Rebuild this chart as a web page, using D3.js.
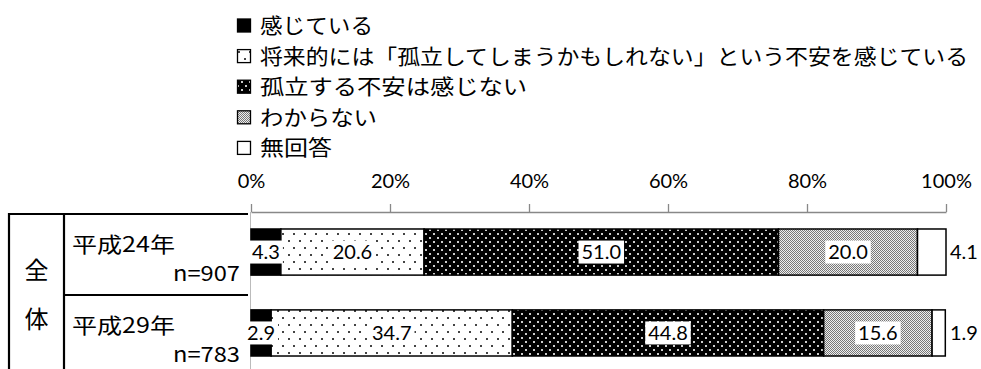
<!DOCTYPE html>
<html><head><meta charset="utf-8">
<script src="https://cdn.jsdelivr.net/npm/d3@7"></script>
<style>body{margin:0;background:#fff;overflow:hidden}</style>
</head><body>
<svg id="c" width="981" height="369"></svg>
<script>
// ---- data ----
const categories = ["平成24年", "平成29年"];
const sampleSizes = ["n=907", "n=783"];
const groupLabel = ["全", "体"];
const seriesNames = [
  "感じている",
  "将来的には「孤立してしまうかもしれない」という不安を感じている",
  "孤立する不安は感じない",
  "わからない",
  "無回答"
];
const feelAnxious = [4.3, 2.9];
const futureAnxious = [20.6, 34.7];
const noAnxiety = [51.0, 44.8];
const dontKnow = [20.0, 15.6];
const noAnswer = [4.1, 1.9];
const tickValues = [0, 20, 40, 60, 80, 100];

const seriesValues = [feelAnxious, futureAnxious, noAnxiety, dontKnow, noAnswer];

const svg = d3.select("#c");
const JP = "'Noto Sans CJK JP', 'Noto Sans', sans-serif";
const NUM = "Lato, 'Noto Sans', sans-serif";

// ---- patterns ----
const defs = svg.append("defs");
const fills = ["#000", "url(#p2)", "url(#p3)", "url(#p4)", "#fff"];
{
  const p2 = defs.append("pattern").attr("id", "p2").attr("patternUnits", "userSpaceOnUse")
    .attr("width", 11).attr("height", 14);
  p2.append("rect").attr("width", 11).attr("height", 14).attr("fill", "#fff");
  p2.append("rect").attr("x", 2).attr("y", 2).attr("width", 2).attr("height", 2).attr("fill", "#444");
  p2.append("rect").attr("x", 7).attr("y", 9).attr("width", 2).attr("height", 2).attr("fill", "#444");

  const p3 = defs.append("pattern").attr("id", "p3").attr("patternUnits", "userSpaceOnUse")
    .attr("width", 8).attr("height", 8);
  p3.append("rect").attr("width", 8).attr("height", 8).attr("fill", "#000");
  p3.append("rect").attr("x", 1).attr("y", 1).attr("width", 2).attr("height", 2).attr("fill", "#ccc");
  p3.append("rect").attr("x", 5).attr("y", 5).attr("width", 2).attr("height", 2).attr("fill", "#ccc");

  const p4 = defs.append("pattern").attr("id", "p4").attr("patternUnits", "userSpaceOnUse")
    .attr("width", 2).attr("height", 2);
  p4.append("rect").attr("width", 2).attr("height", 2).attr("fill", "#eee");
  p4.append("rect").attr("x", 0).attr("y", 0).attr("width", 1).attr("height", 1).attr("fill", "#777");
  p4.append("rect").attr("x", 1).attr("y", 1).attr("width", 1).attr("height", 1).attr("fill", "#777");
}

// ---- scales ----
const x = d3.scaleLinear().domain([0, 100]).range([251, 946]);
const y = d3.scaleBand().domain(categories).range([212, 373]).paddingInner(0.43).paddingOuter(0.21);

// ---- legend ----
const legY0 = 25.5, legStep = 30.6;
const legWidths = [113, 708, 267, 117, 72];
const leg = svg.append("g");
seriesNames.forEach((name, i) => {
  const cy = legY0 + i * legStep;
  leg.append("rect").attr("x", 237.5).attr("y", cy - 6.5).attr("width", 13).attr("height", 13)
    .attr("fill", fills[i]).attr("stroke", "#000").attr("stroke-width", 1.3);
  leg.append("text").attr("x", 260).attr("y", cy).attr("dy", "0.36em")
    .attr("font-family", JP).attr("font-size", 21).attr("fill", "#000")
    .attr("textLength", legWidths[i]).attr("lengthAdjust", "spacingAndGlyphs").text(name);
});

// ---- axis ----
const axis = svg.append("g").attr("transform", "translate(0,212)")
  .call(d3.axisTop(x).tickValues(tickValues).tickFormat(d => d + "%").tickSize(8).tickSizeOuter(0));
axis.select(".domain").attr("stroke", "#888").attr("stroke-width", 1.3);
axis.selectAll(".tick line").attr("stroke", "#888").attr("stroke-width", 1.3);
axis.selectAll(".tick text").attr("font-family", NUM).attr("font-size", 20).attr("fill", "#000")
  .attr("dy", 0).attr("y", -24);
// vertical category axis line
svg.append("line").attr("x1", 250.5).attr("x2", 250.5).attr("y1", 212).attr("y2", 369)
  .attr("stroke", "#bbb").attr("stroke-width", 1);

// ---- bars ----
const stacked = categories.map((c, ci) => {
  let acc = 0;
  return seriesValues.map((arr, si) => {
    const v = arr[ci]; const s = acc; acc += v;
    return { cat: c, si, v, x0: s, x1: acc };
  });
});
const barG = svg.append("g");
stacked.flat().forEach(d => {
  barG.append("rect").attr("x", x(d.x0)).attr("y", y(d.cat))
    .attr("width", x(d.x1) - x(d.x0)).attr("height", y.bandwidth())
    .attr("fill", fills[d.si]).attr("stroke", "#000").attr("stroke-width", 1.5);
});

// ---- labels ----
const labG = svg.append("g");
stacked.flat().forEach(d => {
  const cy = y(d.cat) + y.bandwidth() / 2;
  if (d.si === 4) {
    labG.append("text").attr("x", x(100) + 4).attr("y", cy).attr("dy", "0.36em")
      .attr("font-family", NUM).attr("font-size", 20).attr("fill", "#000").text(d.v.toFixed(1));
  } else {
    const g = labG.append("g");
    const t = g.append("text").attr("x", (x(d.x0) + x(d.x1)) / 2).attr("y", cy).attr("dy", "0.36em")
      .attr("text-anchor", "middle").attr("font-family", NUM).attr("font-size", 20).attr("fill", "#000")
      .text(d.v.toFixed(1));
    const bb = t.node().getBBox();
    g.insert("rect", "text").attr("x", bb.x - 3).attr("y", cy - 11.5).attr("width", bb.width + 6)
      .attr("height", 23).attr("fill", "#fff");
  }
});

// ---- left table ----
const tbl = svg.append("g").attr("stroke", "#000").attr("stroke-width", 2.2);
tbl.append("line").attr("x1", 9).attr("x2", 248).attr("y1", 214).attr("y2", 214);
tbl.append("line").attr("x1", 9).attr("x2", 9).attr("y1", 213).attr("y2", 369);
tbl.append("line").attr("x1", 64).attr("x2", 64).attr("y1", 213).attr("y2", 369);
tbl.append("line").attr("x1", 64).attr("x2", 248).attr("y1", 295).attr("y2", 295);

svg.append("text").attr("x", 36.5).attr("y", 279).attr("text-anchor", "middle")
  .attr("font-family", JP).attr("font-size", 24).text(groupLabel[0]);
svg.append("text").attr("x", 36.5).attr("y", 328).attr("text-anchor", "middle")
  .attr("font-family", JP).attr("font-size", 24).text(groupLabel[1]);

categories.forEach((c, i) => {
  const top = y(c);
  svg.append("text").attr("x", 72).attr("y", top + 23).attr("font-family", JP).attr("font-size", 21)
    .attr("textLength", 103).attr("lengthAdjust", "spacingAndGlyphs").text(c);
  svg.append("text").attr("x", 173).attr("y", top + 52)
    .attr("font-family", JP).attr("font-size", 21)
    .attr("textLength", 67).attr("lengthAdjust", "spacingAndGlyphs").text(sampleSizes[i]);
});
</script>
</body></html>
